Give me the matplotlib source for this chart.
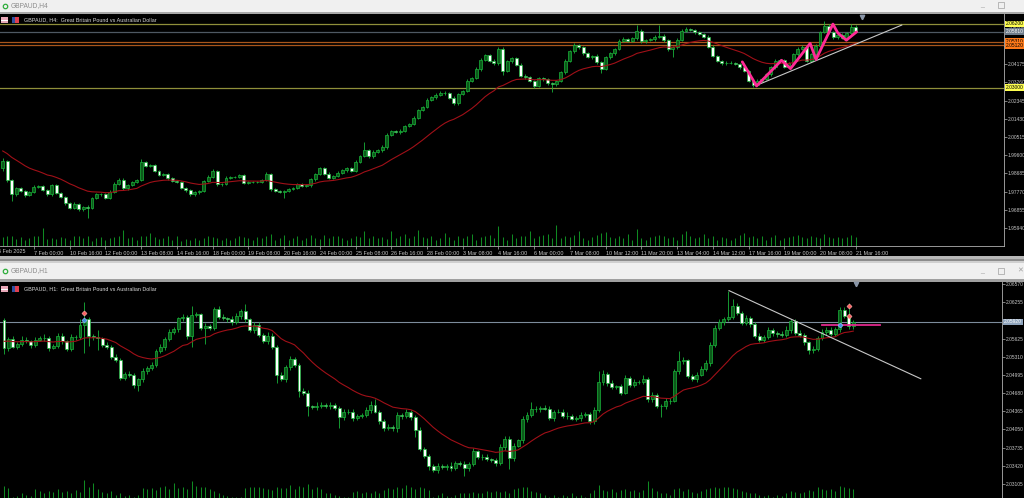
import numpy as np
import matplotlib
matplotlib.use("Agg")
import matplotlib.pyplot as plt
from matplotlib.transforms import blended_transform_factory
from matplotlib.patches import Rectangle

plt.rcParams['font.family'] = ['Liberation Sans', 'DejaVu Sans']

# ---------------- DATA : GBPAUD H4 ----------------
h4_first_open = 1.9894
h4_close = [
    1.9931, 1.9835, 1.9763, 1.9796, 1.9780, 1.9759, 1.9776, 1.9800,
    1.9805, 1.9783, 1.9763, 1.9810, 1.9771, 1.9751, 1.9717, 1.9696,
    1.9716, 1.9687, 1.9699, 1.9696, 1.9743, 1.9763, 1.9766, 1.9746,
    1.9776, 1.9817, 1.9837, 1.9793, 1.9810, 1.9825, 1.9833, 1.9924,
    1.9906, 1.9911, 1.9880, 1.9859, 1.9864, 1.9843, 1.9830, 1.9827,
    1.9796, 1.9783, 1.9763, 1.9775, 1.9780, 1.9830, 1.9850, 1.9880,
    1.9813, 1.9817, 1.9847, 1.9850, 1.9849, 1.9859, 1.9822, 1.9825,
    1.9825, 1.9827, 1.9835, 1.9864, 1.9788, 1.9780, 1.9776, 1.9780,
    1.9788, 1.9796, 1.9813, 1.9805, 1.9808, 1.9838, 1.9864, 1.9894,
    1.9867, 1.9847, 1.9855, 1.9872, 1.9884, 1.9894, 1.9880, 1.9927,
    1.9956, 1.9985, 1.9956, 1.9978, 1.9985, 2.0001, 2.0062, 2.0079,
    2.0074, 2.0082, 2.0107, 2.0116, 2.0149, 2.0186, 2.0200, 2.0237,
    2.0250, 2.0263, 2.0274, 2.0270, 2.0247, 2.0220, 2.0267, 2.0280,
    2.0334, 2.0347, 2.0393, 2.0438, 2.0462, 2.0435, 2.0421, 2.0494,
    2.0384, 2.0431, 2.0448, 2.0415, 2.0359, 2.0351, 2.0334, 2.0309,
    2.0347, 2.0342, 2.0321, 2.0317, 2.0334, 2.0376, 2.0435, 2.0482,
    2.0515, 2.0502, 2.0472, 2.0452, 2.0460, 2.0426, 2.0393, 2.0452,
    2.0472, 2.0494, 2.0536, 2.0544, 2.0536, 2.0549, 2.0586, 2.0532,
    2.0539, 2.0542, 2.0556, 2.0561, 2.0539, 2.0494, 2.0502, 2.0539,
    2.0586, 2.0594, 2.0589, 2.0578, 2.0569, 2.0556, 2.0505, 2.0460,
    2.0435, 2.0421, 2.0425, 2.0423, 2.0418, 2.0401, 2.0384, 2.0334,
    2.0314, 2.0334, 2.0342, 2.0368, 2.0401, 2.0435, 2.0438, 2.0405,
    2.0421, 2.0468, 2.0494, 2.0502, 2.0435, 2.0468, 2.0510, 2.0578,
    2.0611, 2.0578, 2.0552, 2.0566, 2.0549, 2.0573, 2.0603, 2.0584,
]
h4_upper_pips = [
    13, 6, 5, 6, 4, 5, 6, 8, 6, 5, 6, 7, 5, 4, 5, 6,
    6, 5, 6, 8, 6, 7, 5, 6, 8, 6, 7, 6, 5, 7, 6, 15,
    8, 6, 5, 6, 5, 4, 6, 5, 5, 6, 5, 6, 5, 6, 8, 10,
    6, 5, 8, 6, 7, 8, 5, 6, 6, 5, 7, 10, 6, 5, 6, 5,
    5, 6, 5, 6, 8, 6, 7, 6, 5, 6, 5, 8, 6, 5, 6, 8,
    7, 39, 6, 7, 6, 8, 10, 6, 7, 8, 6, 7, 8, 6, 7, 12,
    8, 7, 6, 7, 6, 8, 7, 6, 8, 7, 10, 8, 7, 6, 8, 9,
    10, 8, 7, 6, 6, 7, 5, 6, 8, 7, 6, 7, 6, 8, 7, 8,
    10, 6, 7, 6, 5, 8, 6, 7, 8, 6, 7, 8, 6, 7, 30, 8,
    7, 6, 7, 55, 6, 7, 8, 9, 7, 8, 6, 7, 6, 5, 6, 7,
    6, 5, 6, 7, 6, 5, 6, 5, 6, 7, 8, 7, 8, 6, 7, 5,
    7, 8, 9, 12, 6, 8, 7, 8, 25, 6, 7, 6, 8, 7, 17, 9,
]
h4_lower_pips = [
    13, 8, 34, 6, 5, 7, 6, 5, 6, 5, 7, 6, 5, 6, 8, 6,
    7, 6, 8, 54, 6, 5, 6, 7, 5, 6, 5, 8, 6, 5, 6, 5,
    6, 5, 7, 6, 5, 6, 5, 7, 5, 6, 7, 6, 8, 7, 6, 5,
    6, 7, 5, 6, 5, 6, 8, 6, 7, 6, 5, 6, 8, 7, 6, 34,
    6, 5, 7, 6, 5, 6, 7, 6, 5, 6, 7, 5, 6, 7, 5, 6,
    7, 6, 8, 10, 6, 7, 8, 6, 5, 7, 6, 8, 6, 7, 6, 5,
    6, 7, 6, 8, 7, 9, 6, 7, 5, 7, 6, 8, 7, 9, 8, 7,
    20, 7, 6, 8, 7, 6, 8, 9, 8, 7, 6, 42, 7, 6, 8, 7,
    6, 8, 7, 6, 8, 7, 22, 6, 7, 8, 6, 7, 8, 6, 9, 7,
    8, 6, 7, 6, 8, 9, 39, 8, 7, 6, 7, 8, 6, 7, 8, 9,
    7, 8, 6, 7, 6, 8, 7, 6, 10, 8, 7, 6, 8, 7, 6, 8,
    7, 6, 8, 7, 9, 6, 8, 7, 6, 8, 7, 9, 6, 8, 7, 6,
]
h4_volume = [
    2500, 3000, 3000, 2000, 2500, 1800, 2200, 3000, 2800, 5200,
    2000, 2200, 2000, 2500, 2200, 1800, 3000, 3000, 2200, 3000,
    1500, 2200, 2500, 1800, 2200, 2500, 3000, 4800, 2200, 2500,
    1800, 3000, 2800, 3800, 2500, 2000, 2200, 2800, 1800, 3000,
    1500, 2000, 1800, 2200, 1800, 2200, 3000, 2500, 2200, 1800,
    2200, 1800, 2200, 2800, 2500, 2200, 1800, 2500, 2200, 3000,
    3500, 1800, 2200, 3200, 1800, 2200, 3000, 1800, 2200, 3200,
    2200, 2000, 3200, 2200, 2800, 3000, 2200, 1800, 2200, 3000,
    2500, 4500, 2200, 2800, 2200, 2500, 2000, 4500, 2200, 2800,
    3500, 2200, 2800, 4800, 2500, 2200,
    3000, 1800, 2200, 3800, 2500, 1800, 2800, 2200, 3000, 3500,
    1800, 2500, 3000, 3200, 2200, 5800, 2500, 1800, 3500, 2200,
    3000, 2800, 4500, 2200, 2800, 3200, 3500, 2200, 6300, 2200,
    3000, 2500, 3200, 4500, 2200, 1800, 2500, 3200, 3800, 4000,
    2500, 2200, 3000, 2200, 3500, 1800, 5000, 2200, 1800, 2500,
    3000, 3200, 2800, 2200, 2500, 1800, 3500, 4500, 2800, 2200,
    2500, 3500, 2200, 3000, 1800, 2500, 2200, 1800, 2200, 3200,
    3800, 2500, 2800, 2200, 3000, 1800, 2500, 3200, 1800, 2200,
    2500, 3000, 3200, 2500, 2200, 3000, 2500, 2200, 3500, 2500,
    2200, 2500, 2200, 2500, 3200, 2500,
]
h4_ma_start = 1.9981
h4_time_labels = [
    "6 Feb 2025", "7 Feb 00:00", "10 Feb 16:00", "12 Feb 00:00", "13 Feb 08:00",
    "14 Feb 16:00", "18 Feb 00:00", "19 Feb 08:00", "20 Feb 16:00", "24 Feb 00:00",
    "25 Feb 08:00", "26 Feb 16:00", "28 Feb 00:00", "3 Mar 08:00", "4 Mar 16:00",
    "6 Mar 00:00", "7 Mar 08:00", "10 Mar 12:00", "11 Mar 20:00", "13 Mar 04:00",
    "14 Mar 12:00", "17 Mar 16:00", "19 Mar 00:00", "20 Mar 08:00", "21 Mar 16:00",
]
h4_price_ticks = [1.95940, 1.96855, 1.97770, 1.98685, 1.99600, 2.00515,
                  2.01430, 2.02345, 2.03260, 2.04175, 2.05090, 2.06005]
h4_levels = [2.0620, 2.0581, 2.0531, 2.0512, 2.0300]
h4_level_kind = ["yellow", "gray", "orange", "orange", "yellow"]
h4_zigzag_bar = [165.6, 168.8, 174.4, 176.4, 180.8, 182.1, 185.9, 187.0, 188.9, 191.2]
h4_zigzag_price = [2.0429, 2.0308, 2.0437, 2.0395, 2.0522, 2.0441, 2.0619, 2.0574, 2.0538, 2.0580]
h4_trend_bar = [168.8, 201.3]
h4_trend_price = [2.0311, 2.0614]

# ---------------- DATA : GBPAUD H1 ----------------
h1_first_open = 2.0595
h1_close = [
    2.0546, 2.0562, 2.0549, 2.0554, 2.0561, 2.0558, 2.0552, 2.0561,
    2.0563, 2.0564, 2.0547, 2.0550, 2.0568, 2.0558, 2.0545, 2.0565,
    2.0565, 2.0587, 2.0596, 2.0567, 2.0565, 2.0563, 2.0552, 2.0549,
    2.0531, 2.0525, 2.0495, 2.0502, 2.0499, 2.0483, 2.0492, 2.0506,
    2.0512, 2.0517, 2.0541, 2.0548, 2.0562, 2.0574, 2.0579, 2.0598,
    2.0600, 2.0568, 2.0604, 2.0605, 2.0581, 2.0584, 2.0581, 2.0614,
    2.0601, 2.0598, 2.0596, 2.0591, 2.0602, 2.0610, 2.0596, 2.0578,
    2.0587, 2.0569, 2.0558, 2.0568, 2.0548, 2.0500, 2.0492, 2.0513,
    2.0527, 2.0517, 2.0472, 2.0469, 2.0445, 2.0444, 2.0446, 2.0448,
    2.0446, 2.0447, 2.0442, 2.0426, 2.0436, 2.0435, 2.0425, 2.0428,
    2.0430, 2.0439, 2.0448, 2.0436, 2.0419, 2.0407, 2.0409, 2.0407,
    2.0430, 2.0428, 2.0435, 2.0426, 2.0404, 2.0371, 2.0359, 2.0342,
    2.0335, 2.0341, 2.0339, 2.0342, 2.0338, 2.0347, 2.0345, 2.0338,
    2.0345, 2.0367, 2.0358, 2.0357, 2.0353, 2.0352, 2.0347, 2.0374,
    2.0388, 2.0356, 2.0377, 2.0386, 2.0423, 2.0430, 2.0440, 2.0441,
    2.0442, 2.0441, 2.0425, 2.0436, 2.0436, 2.0429, 2.0428, 2.0424,
    2.0425, 2.0430, 2.0432, 2.0419, 2.0438, 2.0487, 2.0501, 2.0486,
    2.0479, 2.0480, 2.0469, 2.0494, 2.0483, 2.0487, 2.0488, 2.0492,
    2.0457, 2.0465, 2.0446, 2.0445, 2.0454, 2.0455, 2.0506, 2.0523,
    2.0525, 2.0497, 2.0493, 2.0500, 2.0510, 2.0521, 2.0552, 2.0581,
    2.0591, 2.0597, 2.0601, 2.0620, 2.0608, 2.0590, 2.0598, 2.0588,
    2.0567, 2.0561, 2.0565, 2.0578, 2.0572, 2.0571, 2.0569, 2.0578,
    2.0593, 2.0572, 2.0569, 2.0556, 2.0543, 2.0545, 2.0564, 2.0574,
    2.0578, 2.0571, 2.0579, 2.0613, 2.0602, 2.0584, 2.0591,
]
h1_upper_pips = [
    3, 4, 5, 3, 6, 4, 3, 5, 4, 6, 3, 4, 5, 4, 3, 5,
    4, 10, 30, 5, 4, 12, 3, 4, 3, 5, 4, 3, 5, 4, 3, 6,
    4, 5, 3, 6, 4, 5, 4, 3, 5, 4, 16, 4, 3, 5, 4, 3,
    5, 4, 3, 6, 5, 4, 12, 3, 5, 4, 3, 6, 4, 3, 5, 4,
    6, 4, 3, 5, 4, 3, 6, 4, 3, 5, 4, 3, 5, 4, 6, 3,
    4, 5, 6, 10, 3, 4, 5, 3, 6, 4, 5, 3, 4, 5, 3, 4,
    3, 5, 4, 3, 6, 4, 3, 5, 4, 6, 3, 4, 5, 3, 4, 6,
    5, 5, 4, 3, 6, 5, 13, 4, 3, 5, 4, 3, 5, 4, 6, 3,
    4, 5, 3, 4, 6, 19, 8, 4, 5, 3, 4, 6, 4, 5, 3, 8,
    4, 5, 3, 4, 6, 5, 4, 19, 5, 3, 4, 5, 6, 4, 5, 6,
    5, 4, 45, 12, 4, 3, 5, 4, 3, 6, 4, 5, 3, 4, 5, 6,
    4, 3, 5, 4, 3, 5, 4, 6, 5, 4, 3, 4, 5, 22, 4,
]
h1_lower_pips = [
    10, 4, 3, 5, 4, 3, 5, 4, 3, 4, 5, 3, 4, 5, 4, 3,
    4, 3, 49, 17, 4, 20, 3, 5, 4, 3, 5, 4, 3, 6, 12, 4,
    5, 3, 4, 3, 5, 4, 3, 5, 4, 6, 20, 4, 3, 27, 4, 3,
    4, 3, 5, 4, 3, 5, 4, 3, 5, 4, 3, 5, 4, 14, 3, 4,
    5, 3, 10, 4, 17, 3, 5, 4, 3, 5, 4, 19, 4, 3, 5, 4,
    3, 4, 5, 3, 4, 5, 3, 4, 7, 4, 3, 5, 12, 4, 3, 8,
    4, 5, 3, 4, 5, 3, 4, 14, 5, 3, 4, 5, 3, 4, 5, 3,
    4, 20, 5, 3, 4, 5, 3, 4, 5, 3, 4, 5, 3, 4, 5, 3,
    4, 5, 3, 4, 5, 3, 4, 5, 3, 4, 5, 3, 4, 5, 3, 4,
    5, 4, 3, 18, 4, 5, 3, 4, 5, 3, 4, 5, 3, 4, 5, 3,
    4, 5, 3, 4, 5, 3, 4, 5, 3, 4, 5, 3, 4, 5, 3, 4,
    5, 3, 4, 5, 7, 5, 3, 4, 5, 3, 4, 5, 3, 4, 5,
]
h1_volume = [
    3600, 2900, 400, 600, 1400, 900, 600, 2600, 2200, 1400,
    2200, 1900, 2600, 1900, 2200, 1600, 2400, 1900, 5400, 3200,
    4600, 2600, 1900, 1400, 2200, 900, 1400, 600, 900, 400,
    900, 2900, 2600, 2900, 2400, 3200, 3600, 2600, 4400, 2900,
    3400, 2600, 5100, 3600, 3400, 3200, 2600, 2200, 1600, 900,
    600, 400, 200, 400, 2900, 3400, 3200, 3400, 2900, 2600,
    2400, 3200, 2900, 2900, 3900, 2600, 3600, 3400, 4200, 2600,
    3200, 2600, 1600, 1400, 900, 600, 400, 200, 1900, 2200,
    1600, 1900, 1400, 2200, 1600, 2400, 2900, 2600, 3400, 2900,
    3900, 3400, 2600, 3400, 2900, 2400,
    400, 900, 1400, 600, 400, 900, 1400, 1600, 1400, 1900,
    1400, 1600, 2200, 1900, 2200, 1900, 2200, 1600, 2600, 2900,
    3200, 3200, 2200, 1900, 1400, 900, 400, 900, 400, 900,
    600, 1400, 600, 900, 400, 1400, 2400, 3900, 2400, 2200,
    2600, 1900, 2400, 2600, 2200, 2400, 1900, 2400, 5100, 2900,
    2200, 1600, 1400, 900, 2600, 2900, 2200, 2600, 1900, 1600,
    2200, 2600, 2900, 3200, 2900, 3400, 3200, 2900, 2600, 2200,
    1900, 1600, 1400, 900, 600, 900, 400, 900, 600, 1400,
    2200, 1900, 1600, 1900, 2400, 2200, 3200, 2600, 2400, 2600,
    2200, 3700, 3200, 2900, 2600,
]
h1_ma_start = 2.0558
h1_price_ticks = [2.03105, 2.03420, 2.03735, 2.04050, 2.04365, 2.04680,
                  2.04995, 2.05310, 2.05625, 2.06255, 2.06570]
h1_current = 2.0592
h1_pink_bar = [182.9, 196.0]
h1_pink_price = [2.0586, 2.0586]
h1_trend_bar = [162.2, 205.1]
h1_trend_price = [2.0646, 2.0493]
h1_sell_marks_bar = [18, 189, 189]
h1_sell_marks_price = [2.0607, 2.0619, 2.0602]
h1_buy_marks_bar = [18, 187]
h1_buy_marks_price = [2.0595, 2.0586]

# ---------------- STYLE ----------------
W, H = 1024, 498
PIP = 0.0001
MA_PERIOD = 21
WICK = '#19b33a'
BULL_FILL = '#0c5a1a'
BEAR_FILL = '#ffffff'
VOL_COLOR = '#0f8a22'
MA_COLOR = '#a01018'
TXT = '#c8c8c8'
FS = 3.9
FS_AX = 3.5
LEVEL_STYLE = {
    "yellow": dict(line='#8f8f3a', box='#ffff50', txt='#000000'),
    "gray": dict(line='#4e5862', box='#6e7c8a', txt='#ffffff'),
    "orange": dict(line='#a8561c', box='#ff7a1a', txt='#000000'),
}

fig = plt.figure(figsize=(W / 100, H / 100), dpi=100, facecolor='black')


def frac(x0, y0, x1, y1):
    return [x0 / W, 1 - y1 / H, (x1 - x0) / W, (y1 - y0) / H]


# background chrome
bg = fig.add_axes([0, 0, 1, 1])
bg.set_xlim(0, W)
bg.set_ylim(H, 0)
bg.axis('off')
for (y0, y1, c) in [(0, 12, '#f0f0f0'), (12, 14, '#a8a8a8'),
                    (256, 258.5, '#b8b8b8'), (258.5, 261, '#8c8c8c'),
                    (261, 263, '#d0d0d0'), (263, 279, '#f0f0f0'),
                    (279, 281.7, '#a0a0a0')]:
    bg.add_patch(Rectangle((0, y0), W, y1 - y0, color=c, lw=0))


def ema(values, start, period):
    a = 2.0 / (period + 1)
    out = [start]
    for v in values[1:]:
        out.append(out[-1] + a * (v - out[-1]))
    return np.array(out)


def draw_chart(rect, xlim, ylim, first_open, closes, up, lo, vol, ma_start,
               vol_per_px, height_px):
    vax = fig.add_axes(rect)
    vax.set_facecolor('black')
    for s in vax.spines.values():
        s.set_visible(False)
    vax.set_xticks([])
    vax.set_yticks([])
    vax.set_xlim(*xlim)
    vax.set_ylim(0, vol_per_px * height_px)
    ax = fig.add_axes(rect)
    ax.patch.set_alpha(0)
    ax.set_xlim(*xlim)
    ax.set_ylim(*ylim)

    c = np.asarray(closes)
    o = np.concatenate([[first_open], c[:-1]])
    x = np.arange(len(c))
    top = np.maximum(o, c)
    bot = np.minimum(o, c)
    hi = top + np.asarray(up) * PIP
    lw_ = bot - np.asarray(lo) * PIP
    vax.vlines(x, 0, vol, color=VOL_COLOR, lw=0.75)
    ax.vlines(x, lw_, hi, color=WICK, lw=0.6, zorder=3)
    bull = c >= o
    ax.bar(x[bull], (top - bot)[bull], bottom=bot[bull], width=0.66,
           color=BULL_FILL, edgecolor=WICK, lw=0.5, zorder=4)
    ax.bar(x[~bull], (top - bot)[~bull], bottom=bot[~bull], width=0.66,
           color=BEAR_FILL, edgecolor=WICK, lw=0.5, zorder=4)
    ax.plot(x, ema(list(c), ma_start, MA_PERIOD), color=MA_COLOR, lw=0.8, zorder=5)

    for s in ['top', 'left']:
        ax.spines[s].set_visible(False)
    for s in ['right', 'bottom']:
        ax.spines[s].set_color('#b0b0b0')
        ax.spines[s].set_linewidth(0.6)
    ax.yaxis.tick_right()
    ax.tick_params(axis='y', colors='#b0b0b0', labelcolor=TXT, labelsize=FS_AX,
                   length=2.0, width=0.5, pad=0.6)
    return ax, vax


blend = lambda ax: blended_transform_factory(ax.transAxes, ax.transData)


def price_tag(ax, price, text, box, txt):
    ax.annotate(text, xy=(1, price), xycoords=blend(ax), xytext=(1.6, 0),
                textcoords='offset points', ha='left', va='center', fontsize=FS_AX,
                color=txt, zorder=20, annotation_clip=False,
                bbox=dict(boxstyle='square,pad=0.15', fc=box, ec='none'))


# ---------- top chart (H4) ----------
top_rect = frac(0, 14, 1004, 245.7)
ax1, v1 = draw_chart(top_rect, (-0.605, 224.2), (1.95046, 2.06697), h4_first_open,
                     h4_close, h4_upper_pips, h4_lower_pips, h4_volume, h4_ma_start,
                     300, 231.7)
ax1.set_yticks(h4_price_ticks)
ax1.set_yticklabels([f"{t:.5f}" for t in h4_price_ticks])
label_bars = np.arange(len(h4_time_labels)) * 8 - 1
ax1.set_xticks(label_bars[1:])
ax1.set_xticklabels(h4_time_labels[1:], ha='left')
ax1.tick_params(axis='x', colors='#b0b0b0', labelcolor=TXT, labelsize=FS,
                length=2.5, width=0.5, pad=1)
ax1.text(label_bars[0], -0.013, h4_time_labels[0],
         transform=blended_transform_factory(ax1.transData, ax1.transAxes),
         ha='left', va='top', fontsize=FS, color=TXT, clip_on=False)
for lvl, kind in zip(h4_levels, h4_level_kind):
    st = LEVEL_STYLE[kind]
    ax1.axhline(lvl, color=st['line'], lw=0.9, zorder=2)
    price_tag(ax1, lvl, f"{lvl:.5f}", st['box'], st['txt'])
ax1.plot(h4_trend_bar, h4_trend_price, color='#c8c8c8', lw=0.8, zorder=6)
ax1.plot(h4_zigzag_bar, h4_zigzag_price, color='#ff2a96', lw=2.0, zorder=7,
         solid_capstyle='round', solid_joinstyle='round')
ax1.plot([len(h4_close) + 0.3], [0.985],
         transform=blended_transform_factory(ax1.transData, ax1.transAxes),
         marker='v', ms=3.2, color='#8a96a8', clip_on=False, zorder=10)

# ---------- bottom chart (H1) ----------
bot_rect = frac(0, 281.7, 1001.7, 498)
ax2, v2 = draw_chart(bot_rect, (-0.895, 223.2), (2.02860, 2.06615), h1_first_open,
                     h1_close, h1_upper_pips, h1_lower_pips, h1_volume, h1_ma_start,
                     300, 216.3)
ax2.set_yticks(h1_price_ticks)
ax2.set_yticklabels([f"{t:.5f}" for t in h1_price_ticks])
ax2.set_xticks([])
ax2.spines['bottom'].set_visible(False)
ax2.axhline(h1_current, color='#7d8c9c', lw=0.8, zorder=2)
price_tag(ax2, h1_current, f"{h1_current:.5f}", '#8fa4bc', '#ffffff')
ax2.plot(h1_trend_bar, h1_trend_price, color='#c8c8c8', lw=0.8, zorder=6)
ax2.plot(h1_pink_bar, h1_pink_price, color='#e0288c', lw=1.3, zorder=7)
ax2.plot(h1_sell_marks_bar, h1_sell_marks_price, 'D', ms=2.6, mfc='#ff6060',
         mec='#ffb0b0', mew=0.4, ls='none', zorder=9)
ax2.plot(h1_buy_marks_bar, h1_buy_marks_price, 'D', ms=2.6, mfc='#3d8fe0',
         mec='#a0c8ff', mew=0.4, ls='none', zorder=9)
ax2.plot([len(h1_close) - 0.5], [0.99],
         transform=blended_transform_factory(ax2.transData, ax2.transAxes),
         marker='v', ms=3.2, color='#8a96a8', clip_on=False, zorder=10)

# ---------- overlay texts / icons ----------
ov = fig.add_axes([0, 0, 1, 1])
ov.set_xlim(0, W)
ov.set_ylim(H, 0)
ov.axis('off')
ov.patch.set_alpha(0)
for yy, title in [(6, "GBPAUD,H4"), (271, "GBPAUD,H1")]:
    ov.plot(4.5, yy, marker='o', ms=3.2, mfc='none', mec='#2fae3c', mew=0.9)
    ov.text(11, yy, title, fontsize=4.8, color='#8c8c8c', va='center', ha='left')
for yy in [5, 271]:
    ov.text(982, yy, "_", fontsize=5, color='#a0a0a0', va='center', ha='center')
    ov.add_patch(Rectangle((998, yy - 3), 6, 6, fill=False, ec='#a0a0a0', lw=0.5))
ov.text(1020, 271, "\u2715", fontsize=5, color='#a0a0a0', va='center', ha='center')
for yy, hdr in [(20, "GBPAUD, H4:  Great Britain Pound vs Australian Dollar"),
                (289, "GBPAUD, H1:  Great Britain Pound vs Australian Dollar")]:
    ov.add_patch(Rectangle((1, yy - 3), 7, 6, color='#e8a8b8', lw=0))
    ov.add_patch(Rectangle((1, yy - 0.5), 7, 1, color='#ffffff', lw=0))
    ov.add_patch(Rectangle((12, yy - 3), 7, 6, color='#3050a0', lw=0))
    ov.add_patch(Rectangle((15, yy - 3), 4, 6, color='#e04050', lw=0))
    ov.text(24, yy, hdr, fontsize=FS, color='#d8d8d8', va='center', ha='left')

fig.savefig('out.png', dpi=100, facecolor='black')
